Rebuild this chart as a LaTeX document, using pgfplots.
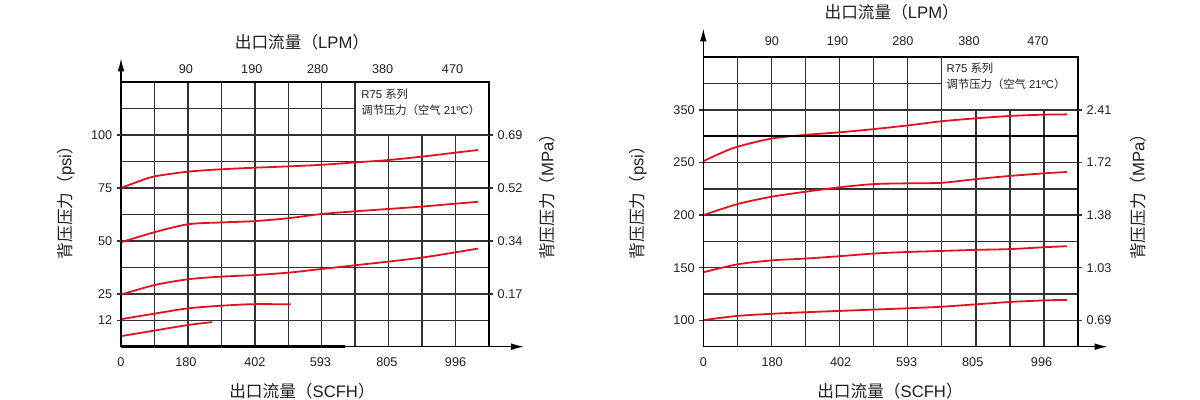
\documentclass[border=0pt]{standalone}
\usepackage{pgfplots}
\pgfplotsset{compat=1.18}
\usepackage{fontspec}
\setmainfont{Liberation Sans}
\newfontfamily\cjk{Noto Sans CJK SC}
\usetikzlibrary{arrows.meta}
\definecolor{curve}{HTML}{E3121F}
\definecolor{gridc}{HTML}{333333}
\definecolor{txt}{HTML}{231F20}
\pgfplotsset{
  base/.style={scale only axis, clip=false, xmin=0, xmax=11, ymin=0,
    /pgf/number format/assume math mode=true,
    ticklabel style={font=\fontsize{9.5}{10}\selectfont, text=txt}},
  gridaxis/.style={base, xtick={0,...,11}, xticklabels={}, yticklabels={},
    major tick length=0pt, grid=major,
    major grid style={gridc, line width=1.05pt},
    axis line style={black, line width=1.2pt}},
  lblaxis/.style={base, axis line style={draw=none}, tick align=outside,
    major tick length=3pt, x tick style={draw=none},
    y tick style={gridc, line width=1.05pt}},
  crv/.style={curve, line width=1.35pt, smooth},
}
\newcommand{\lab}{\fontsize{12.5}{14}\selectfont\color{txt}}
\begin{document}
\begin{tikzpicture}
\useasboundingbox (0,0) rectangle (900pt,300pt);
% ================= LEFT CHART =================
\begin{axis}[gridaxis, at={(90.75pt,39.975pt)}, anchor=south west,
  width=276pt, height=198.3pt, ymax=10, ytick={0,...,10}]
\addplot[crv] coordinates {(0,6.00)(0.5,6.24)(1,6.44)(2,6.62)(3,6.71)(4,6.77)(5,6.82)(6,6.88)(7,6.97)(8,7.06)(9,7.19)(10,7.34)(10.67,7.44)};
\addplot[crv] coordinates {(0,3.95)(1,4.33)(2,4.63)(3,4.70)(4,4.75)(5,4.86)(6,5.02)(7,5.12)(8,5.21)(9,5.30)(10,5.41)(10.67,5.48)};
\addplot[crv] coordinates {(0,1.97)(1,2.33)(2,2.55)(3,2.65)(4,2.71)(5,2.80)(6,2.94)(7,3.08)(8,3.22)(9,3.37)(10,3.57)(10.67,3.71)};
\addplot[crv] coordinates {(0,1.04)(1,1.25)(2,1.45)(3,1.55)(4,1.61)(5.07,1.60)};
\addplot[crv] coordinates {(0,0.40)(1,0.61)(2,0.82)(2.73,0.93)};
\fill[white] (axis cs:7,8) rectangle (axis cs:11,10);
\draw[gridc, line width=1.05pt] (axis cs:7,10) -- (axis cs:7,8) -- (axis cs:11,8);
\draw[black, line width=1.2pt] (axis cs:7,10) -- (axis cs:11,10) -- (axis cs:11,8);
\node[anchor=north west, inner sep=0pt, align=left, xshift=4.5pt, yshift=-5pt,
  font=\fontsize{8.5}{12}\selectfont\color{txt}] at (axis cs:7,10)
  {R75 {\cjk 系列}\\{\cjk 调节压力（空气} 21ºC{\cjk ）}};
\draw[black, line width=1.9pt] (axis cs:0,0) -- (axis cs:6.7,0);
\draw[black, line width=1.2pt, -{Latex[length=10pt,width=5pt]}] (axis cs:0,0) -- (axis cs:0,10.92);
\draw[black, line width=1.2pt, -{Latex[length=10pt,width=5pt]}] (axis cs:0,0) -- (axis cs:12.06,0);
\end{axis}
\begin{axis}[lblaxis, at={(90.75pt,39.975pt)}, anchor=south west,
  width=276pt, height=198.3pt, ymax=10,
  axis x line*=bottom, axis y line*=left,
  xtick={0,1.94,4,5.96,7.95,10}, xticklabels={0,180,402,593,805,996},
  ytick={1,2,4,6,8}, yticklabels={12,25,50,75,100},
  x tick label style={yshift=-2pt}]
\end{axis}
\begin{axis}[lblaxis, at={(90.75pt,39.975pt)}, anchor=south west,
  width=276pt, height=198.3pt, ymax=10,
  axis x line*=top, axis y line*=right,
  xtick={1.94,3.91,5.88,7.82,9.91}, xticklabels={90,190,280,380,470},
  ytick={2,4,6,8}, yticklabels={0.17,0.34,0.52,0.69}]
\end{axis}
% ================= RIGHT CHART =================
\begin{axis}[gridaxis, at={(527.5pt,39.975pt)}, anchor=south west,
  width=281pt, height=217.05pt, ymax=11, ytick={0,...,11}]
\addplot[crv] coordinates {(0,7.05)(0.5,7.35)(1,7.60)(2,7.91)(3,8.05)(4,8.15)(5,8.27)(6,8.41)(7,8.57)(8,8.68)(9,8.77)(10,8.82)(10.67,8.83)};
\addplot[crv] coordinates {(0,5.00)(1,5.42)(2,5.70)(3,5.89)(4,6.06)(5,6.18)(6,6.21)(7,6.23)(8,6.37)(9,6.49)(10,6.59)(10.67,6.64)};
\addplot[crv] coordinates {(0,2.83)(1,3.13)(2,3.28)(3,3.35)(4,3.44)(5,3.54)(6,3.60)(7,3.64)(8,3.68)(9,3.71)(10,3.78)(10.67,3.82)};
\addplot[crv] coordinates {(0,1.01)(1,1.17)(2,1.25)(3,1.31)(4,1.36)(5,1.41)(6,1.46)(7,1.52)(8,1.61)(9,1.70)(10,1.76)(10.67,1.78)};
\draw[black, line width=1.6pt] (axis cs:0,8) -- (axis cs:11,8);
\fill[white] (axis cs:7,9) rectangle (axis cs:11,11);
\draw[gridc, line width=1.05pt] (axis cs:7,11) -- (axis cs:7,9) -- (axis cs:11,9);
\draw[black, line width=1.2pt] (axis cs:7,11) -- (axis cs:11,11) -- (axis cs:11,9);
\node[anchor=north west, inner sep=0pt, align=left, xshift=3.5pt, yshift=-4pt,
  font=\fontsize{8.5}{12}\selectfont\color{txt}] at (axis cs:7,11)
  {R75 {\cjk 系列}\\{\cjk 调节压力（空气} 21ºC{\cjk ）}};
\draw[black, line width=1.2pt, -{Latex[length=10pt,width=5pt]}] (axis cs:0,0) -- (axis cs:0,12.11);
\draw[black, line width=1.2pt, -{Latex[length=10pt,width=5pt]}] (axis cs:0,0) -- (axis cs:11.88,0);
\end{axis}
\begin{axis}[lblaxis, at={(527.5pt,39.975pt)}, anchor=south west,
  width=281pt, height=217.05pt, ymax=11,
  axis x line*=bottom, axis y line*=left,
  xtick={0,2.02,4.03,5.97,7.91,9.93}, xticklabels={0,180,402,593,805,996},
  ytick={1,3,5,7,9}, yticklabels={100,150,200,250,350},
  x tick label style={yshift=-2pt}]
\end{axis}
\begin{axis}[lblaxis, at={(527.5pt,39.975pt)}, anchor=south west,
  width=281pt, height=217.05pt, ymax=11,
  axis x line*=top, axis y line*=right,
  xtick={2.01,3.94,5.86,7.80,9.82}, xticklabels={90,190,280,380,470},
  ytick={1,3,5,7,9}, yticklabels={0.69,1.03,1.38,1.72,2.41},
  x tick label style={yshift=2pt}]
\end{axis}
% ================= OUTER LABELS =================
\node[font=\lab] at (226.5pt,268.5pt) {{\cjk 出口流量（}LPM{\cjk ）}};
\node[font=\lab] at (226.5pt,6.5pt) {{\cjk 出口流量（}SCFH{\cjk ）}};
\node[font=\lab, rotate=90] at (49.5pt,151.1pt) {{\cjk 背压压力（}psi{\cjk ）}};
\node[font=\lab, rotate=90] at (410.25pt,155.6pt) {{\cjk 背压压力（}MPa{\cjk ）}};
\node[font=\lab] at (668.8pt,291pt) {{\cjk 出口流量（}LPM{\cjk ）}};
\node[font=\lab] at (667.5pt,6.5pt) {{\cjk 出口流量（}SCFH{\cjk ）}};
\node[font=\lab, rotate=90] at (478.5pt,151.1pt) {{\cjk 背压压力（}psi{\cjk ）}};
\node[font=\lab, rotate=90] at (853.5pt,155.6pt) {{\cjk 背压压力（}MPa{\cjk ）}};
\end{tikzpicture}
\end{document}
